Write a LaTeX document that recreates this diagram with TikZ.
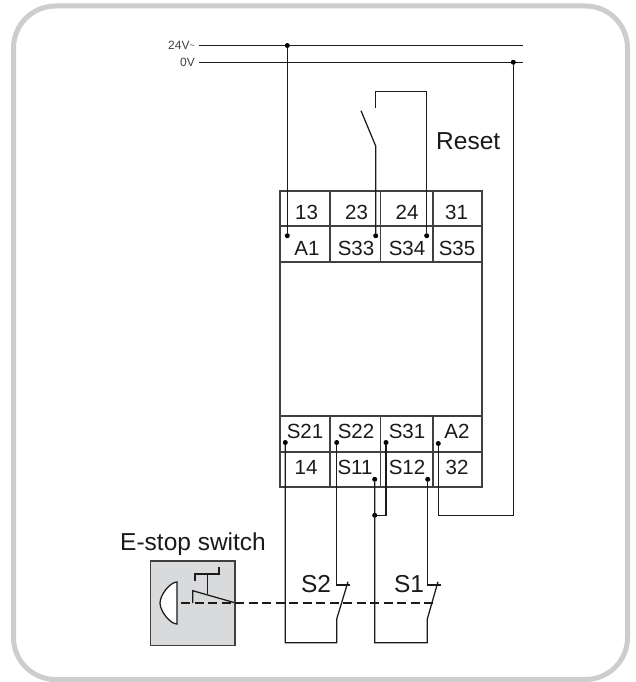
\documentclass[tikz,border=0pt]{standalone}
\usepackage{fontspec}
\setmainfont{Liberation Sans}
\definecolor{framegrey}{HTML}{CDCDCD}
\definecolor{boxgrey}{HTML}{D9DADC}
\definecolor{ink}{HTML}{1A1A1A}
\definecolor{gridink}{HTML}{404040}
\tikzset{
  wire/.style={draw=ink,line width=1.25pt},
  grid/.style={draw=gridink,line width=1.25pt},
  jdot/.style={circle,fill=black,inner sep=0pt,minimum size=5pt},
  term/.style={inner sep=0pt,font=\fontsize{20.5}{22}\selectfont,anchor=center,text=ink},
  big/.style={inner sep=0pt,font=\fontsize{24.5}{26}\selectfont,text=ink},
  small/.style={inner sep=0pt,font=\fontsize{12}{13}\selectfont,anchor=east,text=gridink}
}
\begin{document}
\begin{tikzpicture}[x=1pt,y=-1pt]
\useasboundingbox (0,0) rectangle (635,682);
\draw[draw=framegrey,line width=5pt,fill=white,rounded corners=42pt] (13.5,6) rectangle (627.5,679.5);
% relay
\draw[grid] (280,191) rectangle (482,487);
\draw[grid] (280,226) -- (482,226) (280,262) -- (482,262) (280,416) -- (482,416) (280,452) -- (482,452);
\draw[grid] (330,191) -- (330,262) (380.7,191) -- (380.7,262) (433,191) -- (433,262);
\draw[grid] (330,416) -- (330,487) (380.7,416) -- (380.7,487) (433,416) -- (433,487);
\foreach \n/\t/\x/\y in {a/13/306.5/212,b/23/356.5/212,c/24/407/212,d/31/456.5/212,
  e/A1/307/248,f/S33/356/248,g/S34/407/248,h/S35/457/248,
  i/S21/305/431,j/S22/356/431,k/S31/407/431,l/A2/457/431,
  m/14/306/467,n/S11/355/467,o/S12/407/467,p/32/457/467}
  \node[term] (t\n) at (\x,\y) {\t};
% supply
\coordinate (l1a) at (199,45.5); \coordinate (l1b) at (523,45.5);
\coordinate (l0a) at (199,62.3); \coordinate (l0b) at (523,62.3);
\draw[wire] (l1a) -- (l1b);
\draw[wire] (l0a) -- (l0b);
\node[small] (v24) at (195,45.5) {24V\raisebox{1pt}{\fontsize{9}{9}\selectfont\char"007E}};
\node[small] (v0) at (195,62.3) {0V};
\node[jdot] (d1) at (287.3,45.5) {};
\node[jdot] (d2) at (513.3,62.3) {};
\node[jdot] (dA1) at (287.3,235.7) {};
\node[jdot] (dS33) at (375.7,235.7) {};
\node[jdot] (dS34) at (426.7,235.7) {};
\node[jdot] (dS21) at (285.3,442.5) {};
\node[jdot] (dS22) at (336.7,442.5) {};
\node[jdot] (dS31) at (386,442.5) {};
\node[jdot] (dA2) at (438.3,443.5) {};
\node[jdot] (dS11) at (374.7,479.3) {};
\node[jdot] (dS12) at (427.7,479.3) {};
\node[jdot] (dJ) at (374.7,515.3) {};
\draw[wire] (d1) -- (dA1);
\draw[wire] (d2) -- (513.3,515.3) -- (438.3,515.3) -- (dA2);
% reset
\draw[wire] (dS34) -- (426.7,91.3) -- (375.7,91.3) -- (375.7,107.7);
\draw[wire] (dS33) -- (375.7,146) -- (361,110.7);
\node[big,anchor=west] (reset) at (436,141.5) {Reset};
% lower circuits
\draw[wire] (dS21) -- (285.3,642.7) -- (336.7,642.7) -- (336.7,619) -- (348,581.7);
\draw[wire] (dS22) -- (336.7,585) -- (349.5,585);
\draw[wire] (dS11) -- (374.7,642.7) -- (427.3,642.7) -- (427.3,619) -- (438,581.7);
\draw[wire] (dS12) -- (427.7,585) -- (440.5,585);
\draw[wire] (dS31) -- (386,515.3) -- (dJ);
\node[big] (s2) at (316,584) {S2};
\node[big] (s1) at (409,584) {S1};
% e-stop
\node[big,anchor=west] (estop) at (120,544) {E-stop switch};
\draw[draw=gridink,line width=1.25pt,fill=boxgrey] (150.7,561) rectangle (235,645.3);
\draw[wire,fill=white] (177,582) .. controls (170,582) and (160,595) .. (160,603) .. controls (160,611) and (170,624) .. (177,624) -- cycle;
\draw[wire] (195,581) -- (195,574) -- (219,574) -- (219,567);
\draw[wire] (207.7,574) -- (207.7,593.5);
\draw[wire] (192.7,603) -- (192.7,590.7) -- (234,602.5);
\draw[wire,dash pattern=on 9pt off 4.5pt] (181,603) -- (433,603);
\end{tikzpicture}
\end{document}
